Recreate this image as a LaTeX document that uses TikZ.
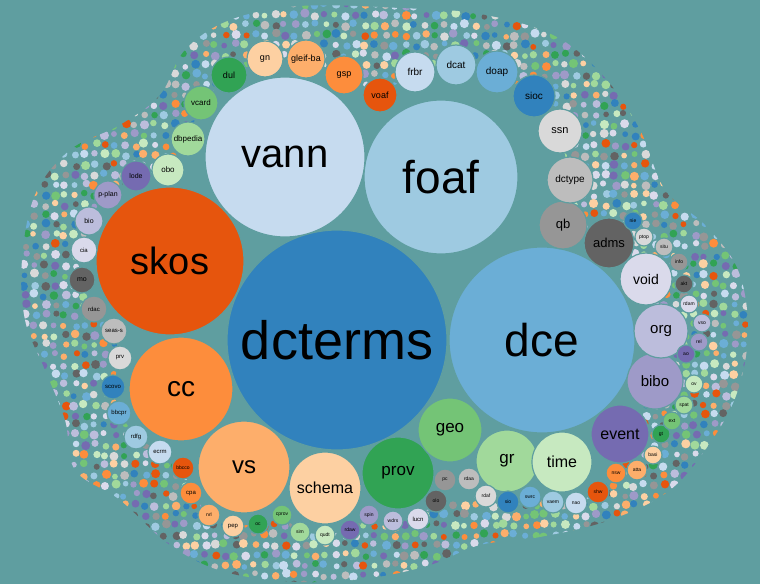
\documentclass[tikz,border=0pt]{standalone}
\usepackage{fontspec}
\setmainfont{Liberation Sans}
\definecolor{bg}{HTML}{5F9EA0}
\definecolor{c1}{HTML}{3182bd}\definecolor{c2}{HTML}{6baed6}\definecolor{c3}{HTML}{9ecae1}\definecolor{c4}{HTML}{c6dbef}
\definecolor{c5}{HTML}{e6550d}\definecolor{c6}{HTML}{fd8d3c}\definecolor{c7}{HTML}{fdae6b}\definecolor{c8}{HTML}{fdd0a2}
\definecolor{c9}{HTML}{31a354}\definecolor{c10}{HTML}{74c476}\definecolor{c11}{HTML}{a1d99b}\definecolor{c12}{HTML}{c7e9c0}
\definecolor{c13}{HTML}{756bb1}\definecolor{c14}{HTML}{9e9ac8}\definecolor{c15}{HTML}{bcbddc}\definecolor{c16}{HTML}{dadaeb}
\definecolor{c17}{HTML}{636363}\definecolor{c18}{HTML}{969696}\definecolor{c19}{HTML}{bdbdbd}\definecolor{c20}{HTML}{d9d9d9}
\newcommand{\bub}[6]{%
  \node[circle,fill=#5,draw=bg,line width=1.2pt,minimum size=#4*2pt,inner sep=0pt,font=\fontsize{#6}{#6}\selectfont] (#1) at (#2,#3) {#1};}
\begin{document}
\begin{tikzpicture}[x=1pt,y=-1pt]
\fill[bg] (0,0) rectangle (760,584);
\useasboundingbox (0,0) rectangle (760,584);
\pgfmathsetseed{7}
\begin{scope}
\clip plot[smooth cycle,tension=0.6] coordinates{(230,20)(300,6)(400,8)(480,14)(555,36)(605,78)(640,130)(665,190)(705,225)(738,270)(748,330)(738,390)(712,440)(670,490)(610,520)(540,537)(480,545)(430,565)(370,578)(300,582)(225,572)(170,545)(120,500)(75,470)(65,420)(45,370)(25,320)(22,260)(35,195)(70,150)(120,125)(160,95)(185,50)};
\foreach \i in {0,...,75}{\foreach \j in {0,...,58}{
  \pgfmathsetmacro\px{\i*10+5+rand*2}\pgfmathsetmacro\py{\j*10+5+rand*2}
  \pgfmathsetmacro\pr{2.8+rnd*1.8}\pgfmathrandominteger\cc{1}{20}
  \fill[c\cc] (\px,\py) circle[radius=\pr];}}
\end{scope}
\fill[bg] (201,103)--(229,75)--(265,59)--(306,59)--(344,75)--(380,95)--(415,72)--(456,65)--(497,72)--(534,96)--(560,131)--(570,180)--(563,225)--(609,243)--(646,279)--(661,331)--(655,381)--(620,434)--(616,473)--(598,492)--(576,503)--(553,502)--(530,497)--(508,502)--(486,496)--(436,501)--(418,519)--(393,521)--(369,515)--(350,530)--(325,535)--(300,532)--(282,515)--(258,524)--(233,526)--(209,515)--(191,493)--(183,468)--(160,452)--(136,437)--(119,413)--(113,387)--(120,358)--(114,331)--(94,309)--(82,280)--(84,250)--(89,221)--(108,195)--(136,176)--(168,170)--(188,139)--cycle;
\bub{dcterms}{337}{340}{110}{c1}{54}
\bub{foaf}{441}{177}{77}{c3}{46}
\bub{vann}{285}{157}{80}{c4}{40}
\bub{dce}{542}{340}{93}{c2}{46}
\bub{skos}{170}{261}{74}{c5}{38}
\bub{cc}{181}{389}{52}{c6}{28}
\bub{vs}{244}{467}{46}{c7}{24}
\bub{schema}{325}{488}{36}{c8}{16}
\bub{prov}{398}{473}{36}{c9}{17}
\bub{geo}{450}{430}{32}{c10}{17}
\bub{gr}{507}{461}{31}{c11}{17}
\bub{time}{562}{462}{30}{c12}{16}
\bub{event}{620}{434}{29}{c13}{16}
\bub{bibo}{655}{381}{28}{c14}{15}
\bub{org}{661}{331}{27}{c15}{15}
\bub{void}{646}{279}{26}{c16}{14}
\bub{adms}{609}{243}{25}{c17}{13}
\bub{qb}{563}{225}{24}{c18}{13}
\bub{dctype}{570}{180}{23}{c19}{10}
\bub{ssn}{560}{131}{22}{c20}{11}
\bub{sioc}{534}{96}{21}{c1}{10}
\bub{doap}{497}{72}{21}{c2}{10}
\bub{dcat}{456}{65}{20}{c3}{10}
\bub{frbr}{415}{72}{20}{c4}{10}
\bub{voaf}{380}{95}{17}{c5}{9}
\bub{gsp}{344}{75}{19}{c6}{9}
\bub{gleif-ba}{306}{59}{19}{c7}{9}
\bub{gn}{265}{59}{18}{c8}{9}
\bub{dul}{229}{75}{18}{c9}{9}
\bub{vcard}{201}{103}{17}{c10}{8}
\bub{dbpedia}{188}{139}{17}{c11}{8}
\bub{obo}{168}{170}{16}{c12}{8}
\bub{lode}{136}{176}{15}{c13}{7}
\bub{p-plan}{108}{195}{14}{c14}{7}
\bub{bio}{89}{221}{14}{c15}{7}
\bub{cia}{84}{250}{13}{c16}{6}
\bub{mo}{82}{280}{13}{c17}{7}
\bub{rdac}{94}{309}{13}{c18}{6}
\bub{seas-s}{114}{331}{13}{c19}{6}
\bub{prv}{120}{358}{12}{c20}{6}
\bub{scovo}{113}{387}{12}{c1}{6}
\bub{bbcpr}{119}{413}{12}{c2}{6}
\bub{rdfg}{136}{437}{12}{c3}{6}
\bub{ecrm}{160}{452}{12}{c4}{6}
\bub{bbcco}{183}{468}{11}{c5}{5}
\bub{cpa}{191}{493}{11}{c6}{6}
\bub{nrl}{209}{515}{11}{c7}{5}
\bub{pep}{233}{526}{11}{c8}{6}
\bub{oc}{258}{524}{10}{c9}{5}
\bub{cprov}{282}{515}{10}{c10}{5}
\bub{sim}{300}{532}{10}{c11}{5}
\bub{qudt}{325}{535}{10}{c12}{5}
\bub{rdaw}{350}{530}{10}{c13}{5}
\bub{spin}{369}{515}{10}{c14}{5}
\bub{wdrs}{393}{521}{10}{c15}{5}
\bub{lucn}{418}{519}{11}{c16}{6}
\bub{olo}{436}{501}{11}{c17}{5}
\bub{pc}{445}{480}{11}{c18}{5}
\bub{rdaa}{469}{479}{11}{c19}{5}
\bub{rdaf}{486}{496}{11}{c20}{5}
\bub{sio}{508}{502}{11}{c1}{5}
\bub{swrc}{530}{497}{11}{c2}{5}
\bub{vaem}{553}{502}{11}{c3}{5}
\bub{nao}{576}{503}{11}{c4}{5}
\bub{shw}{598}{492}{11}{c5}{5}
\bub{nsw}{616}{473}{10}{c6}{5}
\bub{atta}{637}{470}{10}{c7}{5}
\bub{basi}{653}{455}{9}{c8}{5}
\bub{gt}{661}{434}{9}{c9}{5}
\bub{ext}{672}{421}{9}{c10}{5}
\bub{spat}{684}{405}{9}{c11}{5}
\bub{ov}{694}{384}{9}{c12}{5}
\bub{ao}{686}{354}{9}{c13}{5}
\bub{rel}{699}{342}{9}{c14}{5}
\bub{vso}{702}{323}{9}{c15}{5}
\bub{rdam}{689}{304}{9}{c16}{5}
\bub{akt}{684}{284}{9}{c17}{5}
\bub{info}{679}{262}{9}{c18}{5}
\bub{situ}{664}{247}{9}{c19}{5}
\bub{ptop}{644}{237}{9}{c20}{5}
\bub{nie}{633}{221}{9}{c1}{5}
\end{tikzpicture}
\end{document}
